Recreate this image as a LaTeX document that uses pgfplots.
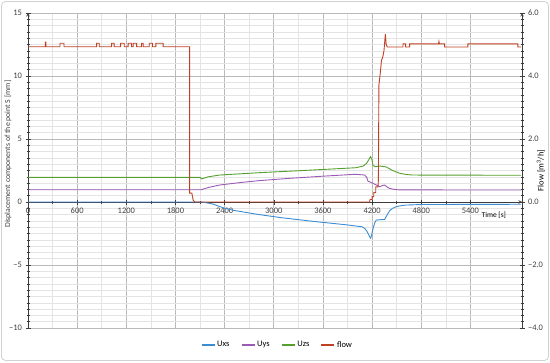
\documentclass[border=0pt]{standalone}
\usepackage{fontspec}
\setmainfont{Carlito}
\usepackage{pgfplots}
\pgfplotsset{compat=1.18}
\definecolor{cUx}{RGB}{60,140,210}
\definecolor{cUy}{RGB}{155,90,180}
\definecolor{cUz}{RGB}{85,160,45}
\definecolor{cFl}{RGB}{190,65,35}
\definecolor{majgrid}{RGB}{185,185,185}
\definecolor{mingrid}{RGB}{228,228,228}
\definecolor{axcol}{RGB}{60,60,60}
\definecolor{txtcol}{RGB}{64,64,64}
\begin{document}
\begin{tikzpicture}[x=1bp,y=1bp]
\path (0,0) rectangle (550,362);
\draw[rounded corners=4bp, draw=black!18, line width=0.8bp] (1.5,1.5) rectangle (548.5,360.5);
\pgfplotsset{
  common/.style={
    scale only axis, width=494bp, height=315bp, at={(28bp,34bp)}, anchor=south west,
    xmin=0, xmax=6030,
    font=\fontsize{8.5}{10}\selectfont,
    tick label style={font=\fontsize{8.5}{10}\selectfont, text=txtcol},
    label style={font=\fontsize{7.8}{9}\selectfont, text=txtcol},
    /pgf/number format/assume math mode=true,
    hide obscured x ticks=false, hide obscured y ticks=false,
    axis line style={-, axcol, line width=0.6bp},
    tick style={axcol, line width=0.5bp},
    tick align=center, major tick length=5bp, minor tick length=3bp,
    no marks,
  }
}
\begin{axis}[common,
  ymin=-10, ymax=15,
  axis x line=middle, axis y line=left,
  xtick={0,600,1200,1800,2400,3000,3600,4200,4800,5400},
  xticklabels={0,600,1200,1800,2400,3000,3600,4200,4800,5400},
  minor x tick num=1,
  ytick={-10,-5,0,5,10,15}, yticklabels={−10,−5,0,5,10,15},
  minor y tick num=9,
  grid=both,
  major grid style={majgrid, line width=0.6bp},
  minor grid style={mingrid, line width=0.5bp},
  ylabel={Displacement components of the point S [mm]},
  ylabel style={at={(axis description cs:-0.0405,0.552)}, anchor=center, rotate=0},
  xlabel={Time [s]},
  xlabel style={at={(axis description cs:0.943,0.359)}, anchor=center, font=\fontsize{7.5}{9}\selectfont},
]
\addplot[draw=cUx, line width=0.9bp] coordinates {
(0,0)(2100,0)(2150,-0.03)(2250,-0.15)(2400,-0.5)(2500,-0.65)(2800,-0.98)(3100,-1.25)(3500,-1.55)(3900,-1.82)(4080,-1.97)(4110,-2.1)(4140,-2.35)(4170,-2.75)(4183,-2.88)(4195,-2.6)(4212,-2.1)(4235,-1.6)(4252,-1.43)(4354,-1.38)(4385,-1.0)(4415,-0.69)(4450,-0.5)(4496,-0.37)(4560,-0.28)(4618,-0.24)(4800,-0.2)(6020,-0.18)
};
\addplot[draw=cUy, line width=0.9bp] coordinates {
(0,0.97)(2100,0.97)(2120,0.98)(2200,1.15)(2341,1.35)(2600,1.55)(2830,1.7)(3200,1.88)(3600,2.05)(4000,2.2)(4110,2.14)(4135,1.95)(4150,1.65)(4170,1.6)(4212,1.48)(4293,1.21)(4330,1.32)(4354,1.35)(4380,1.2)(4415,1.08)(4470,1.0)(4537,0.96)(6020,0.95)
};
\addplot[draw=cUz, line width=0.9bp] coordinates {
(0,1.96)(2100,1.96)(2117,1.83)(2200,2.0)(2341,2.14)(2830,2.33)(3300,2.48)(3800,2.65)(4000,2.72)(4090,2.85)(4130,3.05)(4160,3.35)(4180,3.6)(4195,3.45)(4212,2.9)(4240,2.8)(4300,2.85)(4374,2.78)(4450,2.5)(4537,2.28)(4620,2.18)(4695,2.14)(6020,2.12)
};
\end{axis}
\begin{axis}[common,
  ymin=-4, ymax=6,
  axis x line=none, axis y line=right,
  ytick={-4,-2,0,2,4,6}, yticklabels={−4.0,−2.0,0.0,2.0,4.0,6.0},
  minor y tick num=9,
  ylabel={Flow [m\textsuperscript{3}/h]},
  ylabel style={at={(axis description cs:1.038,0.5)}, anchor=center, rotate=0},
  legend columns=4,
  legend style={at={(axis description cs:0.505,-0.054)}, anchor=center, draw=white, fill=white,
    font=\fontsize{8.5}{10}\selectfont,
    /tikz/every even column/.append style={column sep=9.5bp},
    inner sep=0pt},
  legend image code/.code={\draw[#1] (0bp,0bp) -- (13bp,0bp);},
]
\addlegendimage{draw=cUx, line width=1.2bp}
\addlegendentry{Uxs}
\addlegendimage{draw=cUy, line width=1.2bp}
\addlegendentry{Uys}
\addlegendimage{draw=cUz, line width=1.2bp}
\addlegendentry{Uzs}
\addplot[draw=cFl, line width=0.9bp, legend image post style={line width=1.2bp}] coordinates {
(0,4.93)(212,4.93)(212,5.08)(220,5.08)(220,4.93)
(390,4.93)(390,5.04)(440,5.04)(440,4.93)
(838,4.93)(838,5.04)(870,5.04)(870,4.93)
(1020,4.93)(1020,5.04)(1052,5.04)(1052,4.93)
(1130,4.93)(1130,5.04)(1175,5.04)(1175,4.93)
(1223,4.93)(1223,5.04)(1265,5.04)(1265,4.93)
(1285,4.93)(1285,5.04)(1325,5.04)(1325,4.93)
(1385,4.93)(1385,5.04)(1405,5.04)(1405,4.93)
(1480,4.93)(1480,5.04)(1520,5.04)(1520,4.93)
(1560,4.93)(1560,5.04)(1650,5.04)(1650,4.93)
(1972,4.93)(1972,0.28)(2000,0.28)(2016,0.06)(2036,0)
(4170,0)(4175,0.08)(4200,0.08)(4200,0.17)(4220,0.17)(4220,0.3)(4245,0.3)(4245,0.48)(4272,0.48)(4277,0.7)(4283,3.7)(4300,4.1)(4315,4.5)(4330,4.6)(4345,4.8)(4362,5.33)(4372,5.0)(4385,4.92)
(4577,4.92)(4577,5.02)(4610,5.02)(4610,4.92)(4659,4.92)(4659,5.02)(5010,5.02)(5016,5.1)(5022,5.02)(5085,5.02)(5085,4.92)(5370,4.92)(5370,5.02)(5980,5.02)(5980,4.92)(6020,4.92)
};
\addlegendentry{flow}
\end{axis}
\end{tikzpicture}
\end{document}
